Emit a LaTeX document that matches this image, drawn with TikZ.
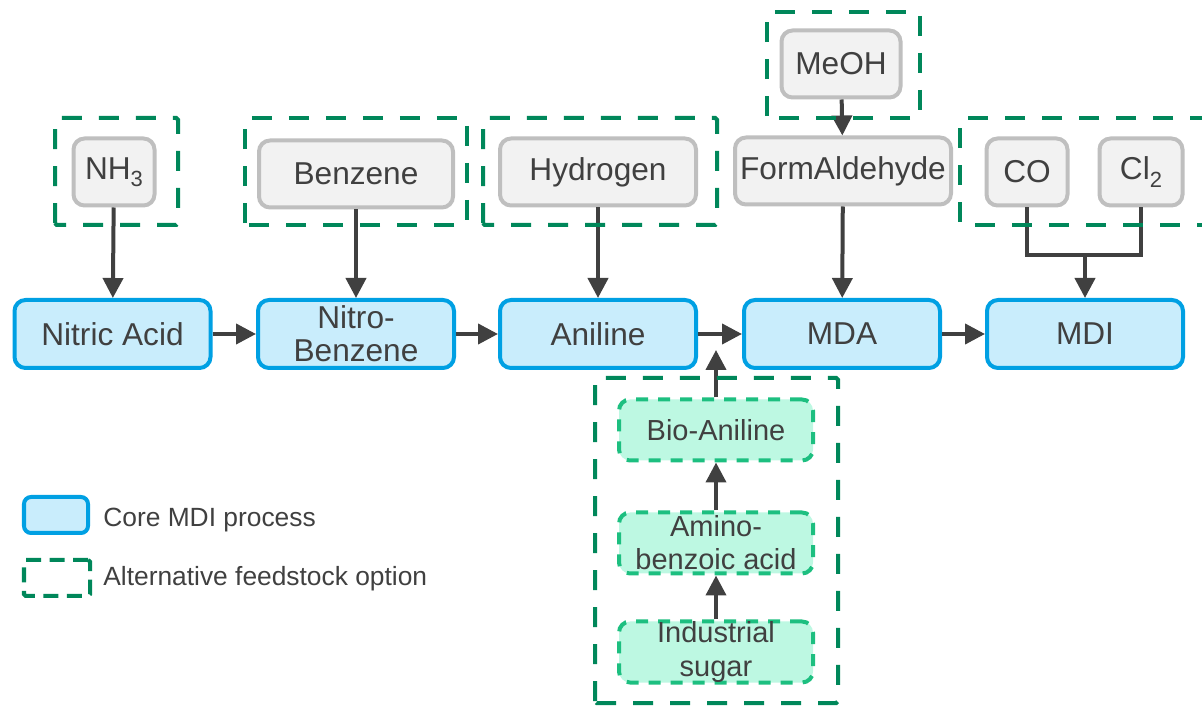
\documentclass[tikz,border=0pt]{standalone}
\usepackage{fontspec}
\setmainfont{Liberation Sans}
\usetikzlibrary{arrows.meta}

\definecolor{coreblue}{HTML}{00A0E3}
\definecolor{corefill}{HTML}{C9EDFC}
\definecolor{feedgray}{HTML}{BFBFBF}
\definecolor{feedfill}{HTML}{F2F2F2}
\definecolor{altgreen}{HTML}{00875A}
\definecolor{biogreen}{HTML}{1DBF80}
\definecolor{biofill}{HTML}{BDF8E2}
\definecolor{darkline}{HTML}{404040}

\newcommand{\lowsub}[1]{\raisebox{-0.45ex}{\fontsize{12.5}{12.5}\selectfont #1}}

\begin{document}
\begin{tikzpicture}[
core/.style={rectangle, rounded corners=0.22cm, draw=coreblue, fill=corefill, line width=0.08cm, minimum width=3.92cm, minimum height=1.36cm, inner sep=0pt, align=center, text=darkline, font=\fontsize{18}{19}\selectfont},
feed/.style={rectangle, rounded corners=0.22cm, draw=feedgray, fill=feedfill, line width=0.08cm, minimum height=1.34cm, inner sep=0pt, text=darkline, font=\fontsize{18}{19}\selectfont},
bio/.style={rectangle, rounded corners=0.22cm, draw=biogreen, fill=biofill, line width=0.08cm, dash pattern=on 0.24cm off 0.2cm, minimum width=3.88cm, minimum height=1.22cm, inner sep=0pt, align=center, text=darkline, font=\fontsize{16.5}{18.8}\selectfont},
altframe/.style={draw=altgreen, line width=0.08cm, dash pattern=on 0.4cm off 0.34cm, rounded corners=1pt},
keytext/.style={anchor=west, inner sep=0pt, text=darkline, font=\fontsize{15}{18}\selectfont},
link/.style={draw=darkline, line width=0.08cm},
flow/.style={link, -{Triangle[length=0.4cm, width=0.4cm]}}
]
\useasboundingbox (0, 0) rectangle (24.04, 14.14);

% core MDI chain
\draw
(2.25, 7.46) node[core](nitric){Nitric Acid}
(7.12, 7.46) node[core](nitrobenzene){Nitro-\\Benzene}
(11.96, 7.46) node[core](aniline){Aniline}
(16.84, 7.46) node[core](mda){MDA}
(21.7, 7.46) node[core](mdi){MDI};

% feedstocks
\draw
(2.28, 10.7) node[feed, minimum width=1.62cm](nh3){NH\lowsub{3}}
(7.12, 10.66) node[feed, minimum width=3.88cm](benzene){Benzene}
(11.96, 10.7) node[feed, minimum width=3.92cm](hydrogen){Hydrogen}
(16.86, 10.72) node[feed, minimum width=4.32cm](formaldehyde){FormAldehyde}
(16.82, 12.86) node[feed, minimum width=2.38cm](meoh){MeOH}
(20.54, 10.7) node[feed, minimum width=1.62cm](co){CO}
(22.82, 10.7) node[feed, minimum width=1.66cm](cl2){Cl\lowsub{2}};

% bio route
\draw
(14.32, 5.54) node[bio](bioaniline){Bio-Aniline}
(14.32, 3.28) node[bio](amino){Amino-\\benzoic acid}
(14.32, 1.1) node[bio](sugar){Industrial\\sugar};

\coordinate (bioin) at (14.32, 7.14);
\coordinate (merge) at (21.7, 9.04);

\draw[flow] (nitric) -- (nitrobenzene);
\draw[flow] (nitrobenzene) -- (aniline);
\draw[flow] (aniline) -- (mda);
\draw[flow] (mda) -- (mdi);
\draw[flow] (nh3) -- (nitric);
\draw[flow] (benzene) -- (nitrobenzene);
\draw[flow] (hydrogen) -- (aniline);
\draw[flow] (meoh) -- (formaldehyde);
\draw[flow] (formaldehyde) -- (mda);
\draw[link] (co.south) |- (merge) -| (cl2.south);
\draw[flow] (merge) -- (mdi.north);
\draw[flow] (sugar) -- (amino);
\draw[flow] (amino) -- (bioaniline);
\draw[flow] (bioaniline) -- (bioin);

% alternative feedstock frames
\draw[altframe] (1.1, 9.64) rectangle (3.56, 11.78);
\draw[altframe] (4.9, 9.64) rectangle (9.34, 11.78);
\draw[altframe] (9.66, 9.64) rectangle (14.34, 11.78);
\draw[altframe] (15.34, 11.78) rectangle (18.4, 13.9);
\draw[altframe] (24.2, 11.78) -- (19.2, 11.78) -- (19.2, 9.64) -- (24.2, 9.64);
\draw[altframe] (11.9, 0.08) rectangle (16.76, 6.58);

% legend
\draw
(1.12, 3.84) node[core, minimum width=1.28cm, minimum height=0.72cm, rounded corners=0.14cm](keycore){}
(2.06, 3.74) node[keytext](keycoretext){Core MDI process}
(1.14, 2.58) node[rectangle, altframe, dash pattern=on 0.3cm off 0.17cm, minimum width=1.32cm, minimum height=0.72cm](keyalt){}
(2.06, 2.56) node[keytext](keyalttext){Alternative feedstock option};

\end{tikzpicture}
\end{document}
